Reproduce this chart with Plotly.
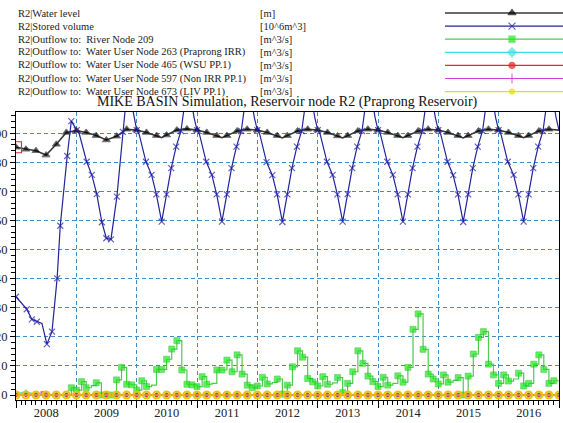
import pandas as pd
import plotly.graph_objects as go

# ---------------- data ----------------
# Water level [m]
WL_EARLY_DATES = ["2008-01-01", "2008-03-01", "2008-05-01", "2008-07-01", "2008-09-01", "2008-11-01",
                  "2009-01-01", "2009-03-01", "2009-05-01", "2009-07-01", "2009-09-01", "2009-11-01"]
WL_EARLY = [85.2, 84.5, 84.0, 82.5, 86.2, 90.3, 90.9, 90.3, 89.2, 87.7, 89.0, 91.4]
WL_DAYS = ["01-01", "03-01", "05-01", "06-01", "07-01", "09-01", "11-01"]
WL_MARK = [1, 1, 1, 0, 1, 1, 1]
WL_YEARS = {
    2010: [91.1, 90.3, 89.2, 88.5, 89.4, 91.1, 91.5],
    2011: [91.1, 90.3, 89.2, 88.5, 89.2, 90.8, 91.4],
    2012: [91.1, 90.3, 89.2, 88.4, 89.2, 90.8, 91.4],
    2013: [91.1, 90.3, 89.1, 88.4, 89.2, 90.8, 91.4],
    2014: [91.1, 90.3, 89.2, 88.5, 89.2, 90.8, 91.4],
    2015: [91.1, 90.3, 89.2, 88.4, 89.2, 90.8, 91.4],
    2016: [91.1, 90.3, 89.2, 88.5, 89.2, 90.8, 91.4],
}
WL_END = ["2017-01-01", 91.1]

# Stored volume [10^6 m^3]
SV_EARLY_DATES = ["2008-01-01", "2008-03-06", "2008-04-06", "2008-05-06", "2008-06-06", "2008-07-06",
                  "2008-08-06", "2008-09-06", "2008-09-25", "2008-11-06", "2008-12-01",
                  "2009-01-03", "2009-01-18", "2009-03-04", "2009-04-04", "2009-05-04", "2009-06-04",
                  "2009-07-01", "2009-07-29", "2009-09-03", "2009-10-09", "2009-10-22", "2009-11-06",
                  "2009-11-20", "2009-12-05", "2009-12-16"]
SV_EARLY = [33.8, 29.5, 26.0, 25.2, 24.6, 17.5, 21.8, 40.1, 58.2, 82.2, 94.2,
            91.1, 89.8, 80.2, 75.7, 69.1, 59.4, 53.9, 53.5, 68.2, 90.5, 97.5, 101.0,
            101.5, 99.0, 95.5]
SV_EARLY_MARK = [1, 1, 1, 1, 0, 1, 1, 1, 1, 1, 1,
                 1, 0, 1, 1, 1, 1, 1, 1, 1, 1, 0, 0, 0, 0, 0]
SV_DAYS = ["01-01", "01-16", "02-26", "04-01", "04-30", "06-01", "07-01", "07-29", "08-28",
           "09-26", "10-12", "10-30", "11-15", "12-01", "12-14"]
SV_MARK = [1, 0, 1, 1, 1, 1, 1, 1, 1, 1, 0, 0, 0, 0, 0]
SV_YEARS = {
    2010: [91.1, 89.6, 80.2, 75.7, 69.0, 59.6, 69.0, 78.0, 85.4, 90.8, 97.5, 101.5, 102.5, 100.0, 95.5],
    2011: [91.1, 89.6, 80.2, 75.7, 69.0, 59.6, 69.0, 78.0, 85.4, 90.8, 97.5, 101.5, 102.5, 100.0, 95.5],
    2012: [91.1, 89.6, 80.1, 75.6, 69.0, 59.5, 69.0, 78.0, 85.4, 90.8, 97.5, 101.5, 102.5, 100.0, 95.5],
    2013: [91.1, 89.6, 80.2, 75.7, 69.0, 59.6, 69.1, 78.0, 85.4, 90.8, 97.5, 101.5, 102.5, 100.0, 95.5],
    2014: [91.1, 89.6, 80.2, 75.7, 69.0, 59.6, 69.0, 78.0, 85.4, 90.8, 97.5, 101.5, 102.5, 100.0, 95.5],
    2015: [91.1, 89.6, 80.2, 75.6, 69.0, 59.5, 69.0, 78.0, 85.4, 90.8, 97.5, 101.5, 102.5, 100.0, 95.5],
    2016: [91.1, 89.6, 80.2, 75.7, 69.0, 59.6, 69.0, 78.0, 85.4, 90.8, 97.5, 101.5, 102.5, 100.0, 95.5],
}
SV_END = ["2017-01-01", 91.1]

# Outflow to River Node 209 [m^3/s], monthly (Jan..Dec)
RIVER_209 = {
    2008: [0, 0, 0, 0, 0, 0, 0, 0, 0, 0, 0, 2.5],
    2009: [1.7, 4.6, 2.5, 3.2, 4.2, 0.0, 0.0, 0.0, 5.2, 9.5, 3.7, 3.5],
    2010: [1.7, 4.9, 2.9, 3.4, 8.8, 8.8, 12.3, 15.8, 18.7, 8.6, 3.7, 3.5],
    2011: [2.9, 6.3, 3.7, 4.0, 8.6, 8.6, 12.0, 8.0, 13.8, 7.2, 3.4, 2.5],
    2012: [3.1, 6.1, 3.8, 4.3, 5.5, 0.3, 3.4, 9.7, 15.2, 13.0, 5.7, 4.5],
    2013: [3.1, 6.3, 3.7, 4.2, 6.0, 0.8, 4.0, 8.0, 15.2, 10.9, 6.5, 4.6],
    2014: [2.9, 6.1, 3.4, 4.0, 6.6, 4.4, 9.5, 22.6, 27.9, 15.7, 7.2, 5.5],
    2015: [3.8, 6.9, 4.4, 5.0, 6.0, 0.0, 6.5, 14.1, 19.8, 21.8, 10.6, 6.9],
    2016: [4.0, 6.9, 4.8, 5.5, 7.5, 3.1, 4.0, 10.6, 13.8, 8.8, 4.0, 4.9],
}

# Bi-monthly outflows to water users [m^3/s] (Jan, Mar, May, Jul, Sep, Nov of 2008..2016, then Jan 2017)
WU_263 = [0.3, 0.9, 0.1, 0, 0, 0,  0, 0, 0, 0, 0, 0,  0, 0, 0, 0, 0, 0,
          0, 0, 0, 0, 0, 0,  0, 0, 0, 0, 0, 0,  0, 0, 0, 0, 0, 0,
          0, 0, 0, 0, 0, 0,  0, 0, 0, 0, 0, 0,  0, 0, 0, 0, 0, 0,  0]
WU_465 = [0, 0, 0, 0, 0, 0,  0, 0, 0, 0, 0, 0,  0, 0, 0, 0, 0, 0,
          0, 0, 0, 0, 0, 0,  0, 0, 0, 0, 0, 0,  0, 0, 0, 0, 0, 0,
          0, 0, 0, 0, 0, 0,  0, 0, 0, 0, 0, 0,  0, 0, 0, 0, 0, 0,  0]
WU_673 = [0, 0, 0, 0, 0, 0,  0, 0, 0, 0, 0, 0,  0, 0, 0, 0, 0, 0,
          0, 0, 0, 0, 0, 0,  0, 0, 0, 0, 0, 0,  0, 0, 0, 0, 0, 0,
          0, 0, 0, 0, 0, 0,  0, 0, 0, 0, 0, 0,  0, 0, 0, 0, 0, 0,  0]
# Outflow to 597: step changes only
WU_597_DATES = ["2008-01-01", "2008-06-01", "2008-07-01", "2009-06-01", "2009-07-01", "2017-01-01"]
WU_597 = [0.0, 1.1, 0.0, 0.6, 0.0, 0.0]

LEGEND_NAMES = ["R2|Water level", "R2|Stored volume", "R2|Outflow to:\u00a0 River Node 209",
                "R2|Outflow to:\u00a0 Water User Node 263 (Praprong IRR)",
                "R2|Outflow to:\u00a0 Water User Node 465 (WSU PP.1)",
                "R2|Outflow to:\u00a0 Water User Node 597 (Non IRR PP.1)",
                "R2|Outflow to:\u00a0 Water User Node 673 (LIV PP.1)"]
LEGEND_UNITS = ["[m]", "[10^6m^3]", "[m^3/s]", "[m^3/s]", "[m^3/s]", "[m^3/s]", "[m^3/s]"]
TITLE = "MIKE BASIN Simulation, Reservoir node R2 (Praprong Reservoir)"

# ---------------- layout constants ----------------
W, H = 563, 423
PX0, PX1, PY0, PY1 = 16, 559, 112, 400
YMIN, YMAX = -1.72, 97.32
LEG_H = 98  # height of the legend band at the top (px)
SERIF = "Liberation Serif, Times New Roman, serif"
GRID = "#3f8cc4"

# ---------------- build series ----------------
wl_x = list(pd.to_datetime(WL_EARLY_DATES))
wl_y = list(WL_EARLY)
wl_s = [7] * len(WL_EARLY)
for yr, vals in WL_YEARS.items():
    wl_x += [pd.Timestamp(f"{yr}-{d}") for d in WL_DAYS]
    wl_y += vals
    wl_s += [7 if m else 0 for m in WL_MARK]
wl_x.append(pd.Timestamp(WL_END[0])); wl_y.append(WL_END[1]); wl_s.append(0)

sv_x = list(pd.to_datetime(SV_EARLY_DATES))
sv_y = list(SV_EARLY)
sv_s = [6 if m else 0 for m in SV_EARLY_MARK]
for yr, vals in SV_YEARS.items():
    sv_x += [pd.Timestamp(f"{yr}-{d}") for d in SV_DAYS]
    sv_y += vals
    sv_s += [6 if m else 0 for m in SV_MARK]
sv_x.append(pd.Timestamp(SV_END[0])); sv_y.append(SV_END[1]); sv_s.append(0)

months = pd.date_range("2008-01-01", "2016-12-01", freq="MS")
rv_y = [v for yr in RIVER_209 for v in RIVER_209[yr]]
rv_s = [0 if (d.year == 2008 and d.month < 12) or d.month == 4 else 6 for d in months]
rv_x = list(months) + [pd.Timestamp("2017-01-01")]
rv_y = rv_y + [rv_y[-1]]
rv_s = rv_s + [0]

bim = pd.date_range("2008-01-01", "2017-01-01", freq="2MS")

fig = go.Figure()

fig.add_trace(go.Scatter(x=wl_x, y=wl_y, mode="lines+markers",
                         line=dict(color="#383838", width=1.6),
                         marker=dict(symbol="triangle-up", size=wl_s, color="black"),
                         name=LEGEND_NAMES[0]))
fig.add_trace(go.Scatter(x=sv_x, y=sv_y, mode="lines+markers",
                         line=dict(color="#23239a", width=1.2),
                         marker=dict(symbol="x-thin", size=sv_s, line=dict(color="#2020a8", width=1.2)),
                         name=LEGEND_NAMES[1]))
fig.add_trace(go.Scatter(x=rv_x, y=rv_y, mode="lines+markers", line_shape="hv",
                         line=dict(color="#4ccc4c", width=1.2),
                         marker=dict(symbol="square", size=rv_s, color="#1fe81f",
                                     line=dict(color="#16b016", width=0.6)),
                         name=LEGEND_NAMES[2]))
fig.add_trace(go.Scatter(x=bim, y=WU_263, mode="lines+markers",
                         line=dict(color="#3fe0e0", width=2.2),
                         marker=dict(symbol="diamond", size=5, color="#3fe0e0"),
                         name=LEGEND_NAMES[3]))
fig.add_trace(go.Scatter(x=bim, y=WU_465, mode="lines+markers",
                         line=dict(color="#ff2020", width=1),
                         marker=dict(symbol="circle", size=4, color="#e02020"),
                         name=LEGEND_NAMES[4]))
fig.add_trace(go.Scatter(x=pd.to_datetime(WU_597_DATES), y=WU_597, mode="lines", line_shape="hv",
                         line=dict(color="#d040d0", width=1.2),
                         name=LEGEND_NAMES[5]))
fig.add_trace(go.Scatter(x=bim, y=WU_673, mode="lines+markers",
                         line=dict(color="#f0d800", width=1.2),
                         marker=dict(symbol="circle-open", size=7, color="#f0c000", line=dict(width=2)),
                         name=LEGEND_NAMES[6]))
# start-point cursor box
fig.add_trace(go.Scatter(x=[wl_x[0]], y=[wl_y[0]], mode="markers",
                         marker=dict(symbol="square-open", size=11, color="#c83838", line=dict(width=1.2)),
                         hoverinfo="skip"))

# ---------------- legend (custom, text left, key right) ----------------
ROW_Y = [13, 26.1, 39.2, 52.3, 65.4, 78.5, 91.6]
KEY_X0, KEY_XM, KEY_X1 = 445, 512, 563
KEYS = [
    dict(color="#383838", sym="triangle-up", mcolor="black", size=7, width=1.6),
    dict(color="#23239a", sym="x-thin", mcolor="#2020a8", size=7, width=1.2),
    dict(color="#4ccc4c", sym="square", mcolor="#1fe81f", size=6, width=1.2),
    dict(color="#3fe0e0", sym="diamond", mcolor="#3fe0e0", size=7, width=1.2),
    dict(color="#ff2020", sym="circle", mcolor="#e02020", size=6, width=1.2),
    dict(color="#d040d0", sym="cross-thin", mcolor="#d040d0", size=7, width=1.2),
    dict(color="#f0d800", sym="circle", mcolor="#f0d800", size=5, width=1.2),
]
for ry, k in zip(ROW_Y, KEYS):
    fig.add_trace(go.Scatter(x=[KEY_X0, KEY_XM, KEY_X1], y=[ry, ry, ry], mode="lines+markers",
                             xaxis="x2", yaxis="y2", hoverinfo="skip", cliponaxis=False,
                             line=dict(color=k["color"], width=k["width"]),
                             marker=dict(symbol=k["sym"], size=[0, k["size"], 0], color=k["mcolor"],
                                         line=dict(color=k["mcolor"], width=1.2))))

annotations = []
for ry, nm, un in zip(ROW_Y, LEGEND_NAMES, LEGEND_UNITS):
    annotations.append(dict(x=16 / W, y=1 - ry / H, xref="paper", yref="paper", text=nm,
                            showarrow=False, xanchor="left", yanchor="middle",
                            font=dict(family=SERIF, size=10.5, color="#222")))
    annotations.append(dict(x=258 / W, y=1 - ry / H, xref="paper", yref="paper", text=un,
                            showarrow=False, xanchor="left", yanchor="middle",
                            font=dict(family=SERIF, size=10.5, color="#222")))
annotations.append(dict(x=(PX0 + PX1) / 2 / W, y=1 - 102.5 / H, xref="paper", yref="paper", text=TITLE,
                        showarrow=False, xanchor="center", yanchor="middle",
                        font=dict(family=SERIF, size=14, color="#111")))

fig.update_layout(
    width=W, height=H, margin=dict(l=0, r=0, t=0, b=0, pad=0),
    paper_bgcolor="white", plot_bgcolor="rgba(0,0,0,0)", showlegend=False,
    annotations=annotations,
    xaxis=dict(domain=[PX0 / W, PX1 / W], range=["2008-01-01", "2017-01-01"], type="date",
               dtick="M12", tick0="2008-01-01", ticklabelmode="period", tickformat="%Y",
               ticks="outside", ticklen=7, tickcolor="black", tickwidth=1, ticklabelstandoff=-6,
               showline=True, linecolor="black", linewidth=1, mirror=True,
               showgrid=True, gridcolor=GRID, griddash="4px,3px", gridwidth=1,
               minor=dict(dtick="M1", ticks="outside", ticklen=4, tickcolor="black", showgrid=False),
               tickfont=dict(family=SERIF, size=12.5, color="#222"), automargin=False, zeroline=False),
    yaxis=dict(domain=[1 - PY1 / H, 1 - PY0 / H], range=[YMIN, YMAX],
               tick0=0, dtick=10, ticks="outside", ticklen=5, tickcolor="black",
               showline=True, linecolor="black", linewidth=1, mirror=True,
               showgrid=True, gridcolor=GRID, griddash="4px,3px", gridwidth=1,
               minor=dict(dtick=2, ticks="outside", ticklen=4, tickcolor="black", showgrid=False),
               tickfont=dict(family=SERIF, size=12.5, color="#222"), automargin=False, zeroline=False),
    xaxis2=dict(domain=[0, 1], range=[0, W], visible=False, anchor="y2", fixedrange=True),
    yaxis2=dict(domain=[1 - LEG_H / H, 1], range=[LEG_H, 0], visible=False, anchor="x2", fixedrange=True),
)

fig.write_html("out.html", config={"displayModeBar": False},
               post_script="document.body.style.margin='0px';document.body.style.overflow='hidden';")
